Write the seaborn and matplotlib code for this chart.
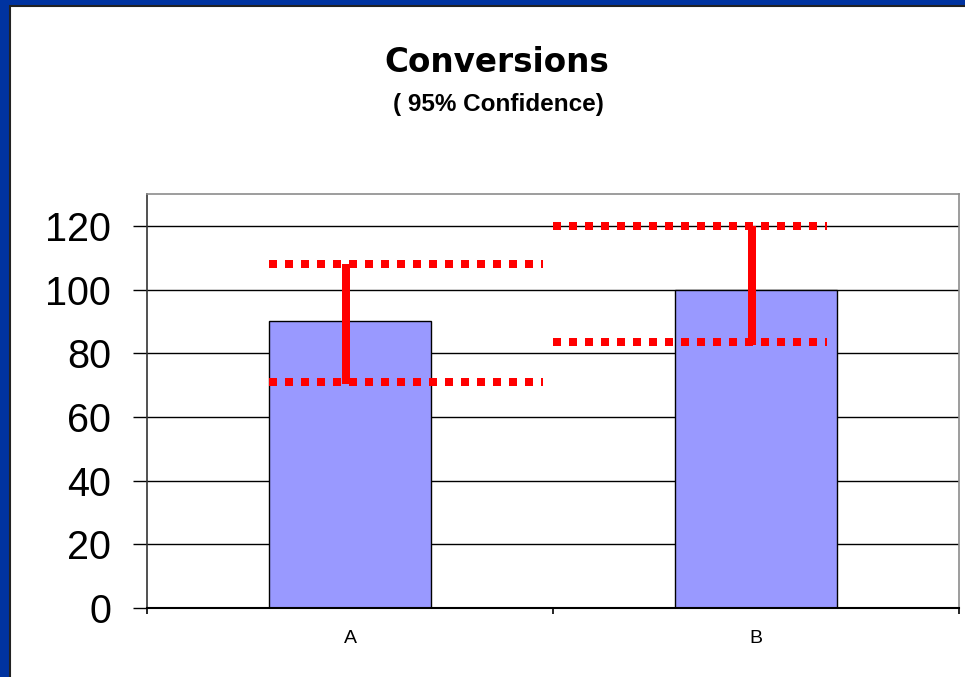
import matplotlib
matplotlib.use("Agg")
import matplotlib.pyplot as plt
from matplotlib.patches import Rectangle
import seaborn as sns
import pandas as pd

# Conversion counts per variant with their 95% confidence bounds
categories = ["A", "B"]
conversions = [90, 100]
ci_lower = [71, 83.5]
ci_upper = [108, 120]
y_ticks = [0, 20, 40, 60, 80, 100, 120]

# Horizontal reach of the dotted bound markers, relative to each category centre
bound_left = [0.20, 0.50]
bound_right = [0.475, 0.175]

sns.set_theme(style="white")
plt.rcParams["font.family"] = ["Liberation Sans", "DejaVu Sans"]

DPI = 100
fig = plt.figure(figsize=(9.65, 6.77), dpi=DPI, facecolor="#0033A0")

# White slide panel, kept underneath the axes
panel = Rectangle((10 / 965, -0.01), 1.0, 1 - 6 / 677 + 0.01,
                  transform=fig.transFigure, facecolor="white",
                  edgecolor="#222222", linewidth=1.5, zorder=-10)
fig.patches.append(panel)

ax = fig.add_axes([147 / 965, 1 - 608 / 677, (959 - 147) / 965, (608 - 194) / 677])
ax.set_zorder(1)
ax.set_facecolor("white")

df = pd.DataFrame({"variant": categories, "conversions": conversions})
sns.barplot(data=df, x="variant", y="conversions", color="#9999FF",
            saturation=1, width=0.4, edgecolor="black", linewidth=1.0,
            ax=ax, zorder=2)

px = 72 / DPI
red = "#FF0000"
for i in range(len(categories)):
    ax.vlines(i - 0.009, ci_lower[i] - 0.8, ci_upper[i], color=red,
              linewidth=8 * px, zorder=4, capstyle="butt")
    for yv in (ci_lower[i], ci_upper[i]):
        ax.hlines(yv, i - bound_left[i], i + bound_right[i], color=red,
                  linewidth=8 * px, linestyles=(0, (1, 1)), zorder=5)

ax.set_xlim(-0.5, 1.5)
ax.set_ylim(0, 130)
ax.set_yticks(y_ticks)
ax.set_yticklabels([str(t) for t in y_ticks], fontsize=28.5, color="black")
ax.set_xticks(range(len(categories)))
ax.set_xticklabels(categories, fontsize=14, color="black")
ax.set_xlabel("")
ax.set_ylabel("")

ax.yaxis.grid(True, color="black", linewidth=1.0)
ax.set_axisbelow(True)

ax.tick_params(axis="y", which="major", direction="out", length=10,
               width=1.0, color="black", pad=16, left=True)
ax.tick_params(axis="x", which="major", length=0, pad=16, bottom=True)
ax.set_xticks([-0.5, 0.5, 1.5], minor=True)
ax.tick_params(axis="x", which="minor", direction="out", length=4,
               width=1.2, color="black", bottom=True)

for side in ("top", "right"):
    ax.spines[side].set_color("#8c8c8c")
    ax.spines[side].set_linewidth(1.2)
ax.spines["left"].set_color("#333333")
ax.spines["left"].set_linewidth(1.2)
ax.spines["bottom"].set_color("black")
ax.spines["bottom"].set_linewidth(1.5)

fig.text(497 / 965, 1 - 62 / 677, "Conversions", ha="center", va="center",
         fontsize=23.5, fontweight="bold", family=["DejaVu Sans"], color="black")
fig.text(498 / 965, 1 - 104 / 677, "( 95% Confidence)", ha="center",
         va="center", fontsize=17.5, fontweight="bold", family=["Liberation Sans"],
         color="black")

fig.savefig("out.png", dpi=DPI, facecolor=fig.get_facecolor())
